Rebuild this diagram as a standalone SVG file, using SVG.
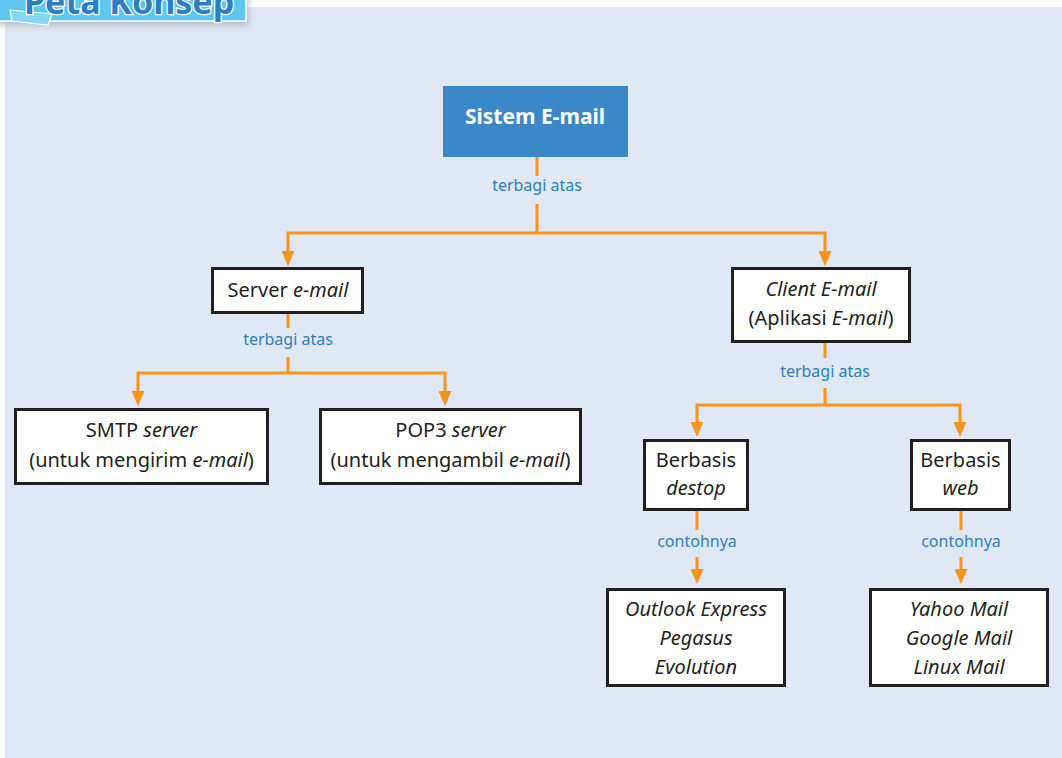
<svg xmlns="http://www.w3.org/2000/svg" width="1062" height="758" viewBox="0 0 1062 758">
  <defs>
    <style>
      .panel { fill: #e1e8f5; }
      .box { fill: #ffffff; stroke: #231f20; stroke-width: 3; }
      .root { fill: #3b88c8; }
      .wire { fill: none; stroke: #f7941d; stroke-width: 3; }
      .txt { font-family: "Noto Sans", "Liberation Sans", sans-serif; font-size: 20px; fill: #231f20; text-anchor: middle; }
      .it { font-style: italic; }
      .rootTxt { font-family: "Noto Sans", "Liberation Sans", sans-serif; font-size: 21px; font-weight: bold; fill: #ffffff; text-anchor: middle; }
      .lbl { font-family: "Noto Sans", "Liberation Sans", sans-serif; font-size: 16px; fill: #2a7fc1; text-anchor: middle; }
      .title { font-family: "Noto Sans", "Liberation Sans", sans-serif; font-size: 34px; font-weight: bold; fill: #2c7fc2; stroke: #ffffff; stroke-width: 2.5; paint-order: stroke; }
    </style>
    <marker id="arrow" viewBox="0 0 15 13" refX="0" refY="6.5" markerUnits="userSpaceOnUse" markerWidth="15" markerHeight="13" orient="auto-start-reverse">
      <path d="M0,0 L15,6.5 L0,13 z" fill="#f7941d"/>
    </marker>
    <filter id="tabShadow" x="-10%" y="-50%" width="120%" height="250%">
      <feDropShadow dx="2" dy="4" stdDeviation="3" flood-color="#7a8699" flood-opacity="0.45"/>
    </filter>
  </defs>

  <!-- background panel -->
  <rect class="panel" x="5" y="7" width="1057" height="751"/>

  <!-- title tab -->
  <g id="title-tab">
    <g filter="url(#tabShadow)">
      <rect x="-4" y="-12" width="250" height="33" fill="#5ec6f0" stroke="#ffffff" stroke-width="1.5"/>
    </g>
    <polygon points="10,10 52,14 48,25 12,21" fill="#86d5f4" stroke="#ffffff" stroke-width="1.2"/>
    <text class="title" x="24" y="14">Peta Konsep</text>
  </g>

  <!-- connectors -->
  <g id="connectors">
    <path class="wire" d="M537,157 V176 M537,204 V233"/>
    <path class="wire" d="M288,251 V233 H825 V251" marker-start="url(#arrow)" marker-end="url(#arrow)"/>

    <path class="wire" d="M288,314 V328 M288,357 V373"/>
    <path class="wire" d="M138,391 V373 H445 V391" marker-start="url(#arrow)" marker-end="url(#arrow)"/>

    <path class="wire" d="M825,343 V358 M825,388 V405"/>
    <path class="wire" d="M697,422 V405 H960 V422" marker-start="url(#arrow)" marker-end="url(#arrow)"/>

    <path class="wire" d="M697,511 V530"/>
    <path class="wire" d="M697,557 V569" marker-end="url(#arrow)"/>
    <path class="wire" d="M961,511 V530"/>
    <path class="wire" d="M961,557 V569" marker-end="url(#arrow)"/>

    <text class="lbl" x="537" y="191">terbagi atas</text>
    <text class="lbl" x="288" y="345">terbagi atas</text>
    <text class="lbl" x="825" y="377">terbagi atas</text>
    <text class="lbl" x="697" y="547">contohnya</text>
    <text class="lbl" x="961" y="547">contohnya</text>
  </g>

  <!-- nodes -->
  <g id="node-sistem-email">
    <rect class="root" x="443" y="86" width="185" height="71"/>
    <text class="rootTxt" x="535" y="124">Sistem E-mail</text>
  </g>

  <g id="node-server-email">
    <rect class="box" x="212.5" y="268.5" width="150" height="44"/>
    <text class="txt" x="288" y="297">Server <tspan class="it">e-mail</tspan></text>
  </g>

  <g id="node-smtp">
    <rect class="box" x="15.5" y="409.5" width="252" height="74"/>
    <text class="txt" x="141.5" y="437">SMTP <tspan class="it">server</tspan></text>
    <text class="txt" x="141.5" y="467">(untuk mengirim <tspan class="it">e-mail</tspan>)</text>
  </g>

  <g id="node-pop3">
    <rect class="box" x="320.5" y="409.5" width="260" height="74"/>
    <text class="txt" x="450.5" y="437">POP3 <tspan class="it">server</tspan></text>
    <text class="txt" x="450.5" y="467">(untuk mengambil <tspan class="it">e-mail</tspan>)</text>
  </g>

  <g id="node-client-email">
    <rect class="box" x="732.5" y="268.5" width="177" height="73"/>
    <text class="txt it" x="821" y="296">Client E-mail</text>
    <text class="txt" x="821" y="325">(Aplikasi <tspan class="it">E-mail</tspan>)</text>
  </g>

  <g id="node-berbasis-destop">
    <rect class="box" x="644.5" y="440.5" width="103" height="69"/>
    <text class="txt" x="696" y="467">Berbasis</text>
    <text class="txt it" x="696" y="495">destop</text>
  </g>

  <g id="node-berbasis-web">
    <rect class="box" x="911.5" y="440.5" width="98" height="69"/>
    <text class="txt" x="960.5" y="467">Berbasis</text>
    <text class="txt it" x="960.5" y="495">web</text>
  </g>

  <g id="node-desktop-clients">
    <rect class="box" x="607.5" y="589.5" width="177" height="96"/>
    <text class="txt it" x="696" y="616">Outlook Express</text>
    <text class="txt it" x="696" y="645">Pegasus</text>
    <text class="txt it" x="696" y="674">Evolution</text>
  </g>

  <g id="node-web-clients">
    <rect class="box" x="870.5" y="589.5" width="177" height="96"/>
    <text class="txt it" x="959" y="616">Yahoo Mail</text>
    <text class="txt it" x="959" y="645">Google Mail</text>
    <text class="txt it" x="959" y="674">Linux Mail</text>
  </g>
</svg>
